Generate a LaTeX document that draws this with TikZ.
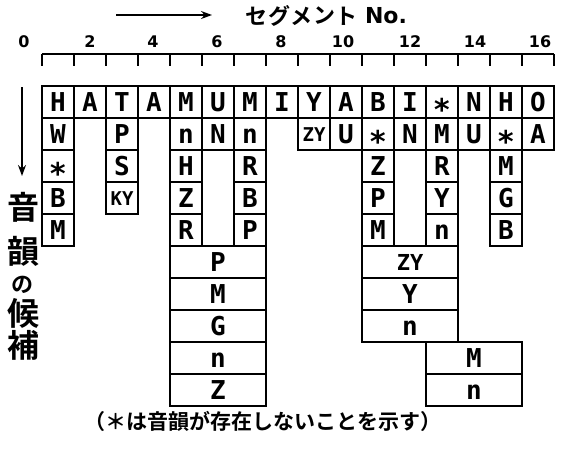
\documentclass[tikz,border=0pt]{standalone}
\usepackage{fontspec}
\setmainfont{DejaVu Sans Mono}
\newfontfamily\jp{Noto Sans CJK JP}[BoldFont={Noto Sans CJK JP Bold}]
\newfontfamily\dig{DejaVu Sans}
\usetikzlibrary{arrows.meta}
\newcommand\astk{{\fontsize{30}{30}\selectfont\smash{\raisebox{-0.3em}{*}}}}
\begin{document}
\begin{tikzpicture}[x=1pt,y=-1pt,line width=1.7pt,
  cell/.style={draw, minimum width=32pt, minimum height=32pt, inner sep=0pt,
    text height=19pt, text depth=0pt, font=\bfseries\fontsize{26}{26}\selectfont},
  smallcell/.style={cell, text height=14pt, font=\bfseries\fontsize{19}{19}\selectfont},
  wide/.style={cell, minimum width=96pt},
  tick/.style={line width=1.7pt},
  num/.style={font=\dig\bfseries\fontsize{16}{16}\selectfont, inner sep=0pt},
  jpchar/.style={font=\jp\bfseries\fontsize{22}{22}\selectfont, inner sep=0pt},
  vchar/.style={font=\jp\bfseries\fontsize{32}{32}\selectfont, inner sep=0pt},
  arr/.style={-{Stealth[length=11pt,width=8pt]}, line width=1.6pt}]
\useasboundingbox (0,0) rectangle (564,453);

% title
\coordinate (ta) at (116,15);
\coordinate (tb) at (212,15);
\draw[arr] (ta) -- (tb);
\foreach \c/\x in {セ/256,グ/279,メ/301,ン/324,ト/346}
  \node[jpchar] (t\x) at (\x,16) {\c};
\node[font=\dig\bfseries\fontsize{22}{22}\selectfont, inner sep=0pt] (no) at (386,16) {No.};

% ruler
\coordinate (r0) at (42,54);
\coordinate (r16) at (554,54);
\draw[tick] (r0) -- (r16);
\foreach \k in {0,...,16}
  \draw[tick] ({42+32*\k},54) -- ({42+32*\k},66);
\foreach \k/\x in {0/24,2/90,4/153,6/217,8/281,10/343,12/410,14/475,16/540}
  \node[num] (n\k) at (\x,42) {\k};

% top row
\foreach \c/\t in {1/H,2/A,3/T,4/A,5/M,6/U,7/M,8/I,9/Y,10/A,11/B,12/I,13/\astk,14/N,15/H,16/O}
  \node[cell] (c\c r1) at ({26+32*\c},102) {\t};

% row 2
\foreach \c/\t in {1/W,3/P,5/n,6/N,7/n,10/U,11/\astk,12/N,13/M,14/U,15/\astk,16/A}
  \node[cell] (c\c r2) at ({26+32*\c},134) {\t};
\node[smallcell] (c9r2) at ({26+32*9},134) {ZY};

% row 3
\foreach \c/\t in {1/\astk,3/S,5/H,7/R,11/Z,13/R,15/M}
  \node[cell] (c\c r3) at ({26+32*\c},166) {\t};

% row 4
\foreach \c/\t in {1/B,5/Z,7/B,11/P,13/Y,15/G}
  \node[cell] (c\c r4) at ({26+32*\c},198) {\t};
\node[smallcell] (c3r4) at ({26+32*3},198) {KY};

% row 5
\foreach \c/\t in {1/M,5/R,7/P,11/M,13/n,15/B}
  \node[cell] (c\c r5) at ({26+32*\c},230) {\t};

% wide boxes
\foreach \r/\t in {6/P,7/M,8/G,9/n,10/Z}
  \node[wide] (wa\r) at (218,{70+32*\r}) {\t};
\foreach \r/\t in {7/Y,8/n}
  \node[wide] (wb\r) at (410,{70+32*\r}) {\t};
\node[wide, text height=16pt, font=\bfseries\fontsize{22}{22}\selectfont] (wb6) at (410,262) {ZY};
\foreach \r/\t in {9/M,10/n}
  \node[wide] (wc\r) at (474,{70+32*\r}) {\t};

% left label
\coordinate (da) at (22,87);
\coordinate (db) at (22,176);
\draw[arr] (da) -- (db);
\node[vchar] (v1) at (24,207) {音};
\node[vchar] (v2) at (24,251) {韻};
\node[jpchar] (v3) at (23,285) {の};
\node[vchar] (v4) at (24,313) {候};
\node[vchar] (v5) at (24,345) {補};

% note
\node[font=\jp\bfseries\fontsize{21}{21}\selectfont, inner sep=0pt] (note) at (263,421) {（＊は音韻が存在しないことを示す）};
\end{tikzpicture}
\end{document}
